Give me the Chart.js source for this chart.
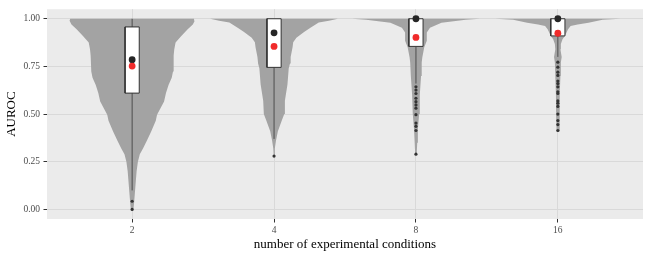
<!DOCTYPE html>
<html>
<head>
<meta charset="utf-8">
<script src="https://cdn.jsdelivr.net/npm/chart.js@4.4.1/dist/chart.umd.min.js"></script>
<style>
  html, body { margin: 0; padding: 0; background: #ffffff; }
  #wrap { width: 649px; height: 260px; }
</style>
</head>
<body>
<div id="wrap"><canvas id="c" width="649" height="260"></canvas></div>
<script>
// ---------------- data ----------------
const categories = ['2', '4', '8', '16'];
const yTickValues = [0, 0.25, 0.5, 0.75, 1.0];

// violin profiles: [AUROC value, relative density (1 = widest)]
const violin2 = [[1.00,0.97],[0.99,0.98],[0.97,0.95],[0.945,0.87],[0.91,0.77],[0.876,0.68],[0.84,0.66],[0.807,0.65],[0.724,0.64],[0.69,0.62],[0.652,0.57],[0.61,0.53],[0.566,0.50],[0.497,0.39],[0.465,0.37],[0.41,0.30],[0.36,0.23],[0.32,0.17],[0.29,0.12],[0.25,0.09],[0.20,0.07],[0.117,0.05],[0.033,0.03],[0.0,0.02]];
const violin4 = [[1.00,1.0],[0.99,0.86],[0.98,0.70],[0.953,0.57],[0.93,0.47],[0.90,0.35],[0.877,0.30],[0.85,0.29],[0.80,0.26],[0.765,0.25],[0.74,0.23],[0.655,0.21],[0.57,0.17],[0.50,0.16],[0.465,0.12],[0.41,0.06],[0.36,0.03],[0.32,0.012],[0.28,0.005]];
const violin8 = [[1.00,1.0],[0.995,0.78],[0.979,0.40],[0.953,0.22],[0.928,0.17],[0.885,0.17],[0.85,0.13],[0.798,0.10],[0.77,0.09],[0.70,0.08],[0.60,0.06],[0.50,0.05],[0.42,0.03],[0.35,0.02],[0.29,0.012]];
const violin16 = [[1.00,0.98],[0.995,0.70],[0.979,0.48],[0.97,0.31],[0.962,0.20],[0.945,0.16],[0.91,0.11],[0.893,0.073],[0.867,0.047],[0.84,0.04],[0.80,0.06],[0.77,0.047],[0.70,0.04],[0.60,0.03],[0.50,0.028],[0.41,0.02]];

// box plot statistics per category
const boxQ1 = [0.61, 0.745, 0.855, 0.91];
const boxQ3 = [0.957, 1.0, 1.0, 1.0];
const whiskerLow = [0.10, 0.37, 0.66, 0.80];
const whiskerHigh = [1.0, 1.0, 1.0, 1.0];
const medians = [0.785, 0.926, 1.0, 1.0];
const means = [0.752, 0.855, 0.902, 0.924];

// outliers per category
const outliers2 = [0.043, 0.0];
const outliers4 = [0.28];
const outliers8 = [0.643, 0.626, 0.608, 0.583, 0.565, 0.548, 0.531, 0.497, 0.453, 0.436, 0.414, 0.290];
const outliers16 = [0.772, 0.746, 0.720, 0.703, 0.673, 0.660, 0.643, 0.617, 0.608, 0.569, 0.557, 0.540, 0.500, 0.466, 0.445, 0.414];

// ---------------- build ----------------
const violins = [violin2, violin4, violin8, violin16];
const outlierSets = [outliers2, outliers4, outliers8, outliers16];
const VIOLIN_HALF = 0.45;
const BOX_HALF = 0.05;
const FONT = "'Liberation Serif', 'Times New Roman', serif";

function violinPoly(i, prof) {
  const c = i + 1;
  const pts = [];
  const asc = prof.slice().reverse();
  asc.forEach(([v, d]) => pts.push({ x: c + d * VIOLIN_HALF, y: v }));
  prof.forEach(([v, d]) => pts.push({ x: c - d * VIOLIN_HALF, y: v }));
  pts.push(pts[0]);
  return pts;
}
function boxPoly(i) {
  const c = i + 1;
  return [
    { x: c - BOX_HALF, y: boxQ1[i] }, { x: c + BOX_HALF, y: boxQ1[i] },
    { x: c + BOX_HALF, y: boxQ3[i] }, { x: c - BOX_HALF, y: boxQ3[i] },
    { x: c - BOX_HALF, y: boxQ1[i] }
  ];
}

const datasets = [];
violins.forEach((prof, i) => {
  datasets.push({
    data: violinPoly(i, prof), showLine: true, fill: 'shape',
    backgroundColor: '#a3a3a3', borderColor: 'rgba(0,0,0,0)', borderWidth: 0,
    pointRadius: 0, order: 10
  });
});
categories.forEach((c, i) => {
  datasets.push({
    data: [{ x: i + 1, y: whiskerLow[i] }, { x: i + 1, y: boxQ1[i] }], showLine: true,
    borderColor: '#444444', borderWidth: 0.9, pointRadius: 0, fill: false, order: 9
  });
  datasets.push({
    data: [{ x: i + 1, y: boxQ3[i] }, { x: i + 1, y: whiskerHigh[i] }], showLine: true,
    borderColor: '#444444', borderWidth: 0.9, pointRadius: 0, fill: false, order: 9
  });
  datasets.push({
    data: boxPoly(i), showLine: true, fill: 'shape',
    backgroundColor: '#ffffff', borderColor: '#333333', borderWidth: 1,
    pointRadius: 0, order: 8
  });
});
outlierSets.forEach((arr, i) => {
  datasets.push({
    data: arr.map(v => ({ x: i + 1, y: v })), showLine: false,
    pointRadius: 1.6, pointBackgroundColor: '#333333', pointBorderWidth: 0, order: 7
  });
});
datasets.push({
  data: medians.map((v, i) => ({ x: i + 1, y: v })), showLine: false,
  pointRadius: 3.4, pointBackgroundColor: '#262626', pointBorderWidth: 0, order: 6
});
datasets.push({
  data: means.map((v, i) => ({ x: i + 1, y: v })), showLine: false,
  pointRadius: 3.4, pointBackgroundColor: '#f02b2b', pointBorderWidth: 0, order: 5
});

const panelBg = {
  id: 'panelBg',
  beforeDraw(chart) {
    const { ctx, chartArea: a } = chart;
    ctx.save();
    ctx.fillStyle = '#ffffff';
    ctx.fillRect(0, 0, chart.width, chart.height);
    ctx.fillStyle = '#ebebeb';
    ctx.fillRect(a.left, a.top, a.right - a.left, a.bottom - a.top);
    ctx.restore();
  }
};

new Chart(document.getElementById('c'), {
  type: 'scatter',
  data: { datasets },
  options: {
    responsive: false,
    animation: false,
    events: [],
    layout: { padding: { top: 7, right: 6, left: 0, bottom: 0 } },
    plugins: { legend: { display: false }, tooltip: { enabled: false } },
    scales: {
      x: {
        type: 'linear', min: 0.4, max: 4.6,
        afterBuildTicks: (s) => { s.ticks = categories.map((c, i) => ({ value: i + 1 })); },
        afterFit: (s) => { s.height = 41; },
        ticks: {
          callback: (v) => categories[Math.round(v) - 1],
          color: '#4d4d4d', font: { family: FONT, size: 9.5 }, padding: 2, maxRotation: 0, autoSkip: false
        },
        grid: { color: '#d9d9d9', lineWidth: 1, tickColor: '#333333', tickLength: 3.5, tickWidth: 1 },
        border: { display: false },
        title: { display: true, text: 'number of experimental conditions', color: '#000000',
                 font: { family: FONT, size: 13 }, padding: { top: 0, bottom: 8 } }
      },
      y: {
        type: 'linear', min: -0.05, max: 1.05,
        afterBuildTicks: (s) => { s.ticks = yTickValues.map(v => ({ value: v })); },
        afterFit: (s) => { s.width = 47; },
        ticks: {
          callback: (v) => v.toFixed(2),
          color: '#4d4d4d', font: { family: FONT, size: 9.5 }, padding: 3.5, autoSkip: false
        },
        grid: { color: '#d9d9d9', lineWidth: 1, tickColor: '#333333', tickLength: 3.5, tickWidth: 1 },
        border: { display: false },
        title: { display: true, text: 'AUROC', color: '#000000',
                 font: { family: FONT, size: 13 }, padding: { top: 4, bottom: 0 } }
      }
    }
  },
  plugins: [panelBg]
});
</script>
</body>
</html>
